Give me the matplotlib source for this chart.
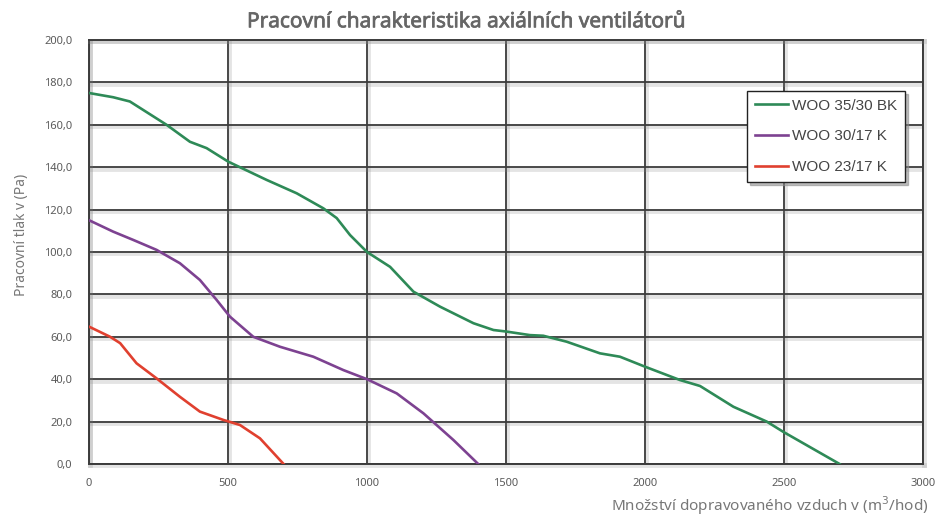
import matplotlib
matplotlib.use("Agg")
import matplotlib.pyplot as plt
import matplotlib.patheffects as pe
from matplotlib.ticker import FuncFormatter
from matplotlib.font_manager import FontProperties

# ---- data ----
green_label = "WOO 35/30 BK"
green_x = [0, 87, 147, 279, 363, 423, 501, 639, 747, 843, 891, 939, 1000, 1083, 1167, 1263, 1383, 1455,
           1500, 1586, 1634, 1718, 1838, 1910, 2000, 2126, 2198, 2318, 2438, 2497, 2700]
green_y = [175, 173, 171, 160, 152, 149, 142.6, 134, 127.7, 120.6, 116, 108, 100, 93, 81.3, 74.2, 66.4, 63.2,
           62.5, 60.8, 60.5, 57.7, 52.2, 50.6, 45.9, 39.6, 36.8, 27, 20, 15.2, 0]

purple_label = "WOO 30/17 K"
purple_x = [0, 87, 159, 243, 327, 399, 459, 507, 591, 687, 807, 915, 1000, 1107, 1203, 1311, 1400]
purple_y = [115, 109.6, 105.7, 101, 94.7, 86.8, 77.4, 69.5, 60, 55.3, 50.6, 44.3, 40, 33.3, 23.9, 11.3, 0]

red_label = "WOO 23/17 K"
red_x = [0, 76, 112, 171, 243, 327, 399, 483, 543, 615, 700]
red_y = [64.8, 60, 57, 47.5, 40.4, 31.7, 24.7, 20.8, 18.4, 12.1, 0]

x_ticks = [0, 500, 1000, 1500, 2000, 2500, 3000]
y_ticks = [0, 20, 40, 60, 80, 100, 120, 140, 160, 180, 200]

title = "Pracovní charakteristika axiálních ventilátorů"
ylabel = "Pracovní tlak v (Pa)"
xlabel = "Množství dopravovaného vzduch v (m$^3$/hod)"

def cond(size, weight="normal"):
    return FontProperties(family="Noto Sans", stretch="condensed", size=size, weight=weight)

fig = plt.figure(figsize=(9.35, 5.19), dpi=100)
fig.patch.set_facecolor("white")
ax = fig.add_axes([89/935, (519-464)/519, (923-89)/935, (464-40)/519])
ax.set_xlim(0, 3000)
ax.set_ylim(0, 200)

shadow = [pe.SimpleLineShadow(offset=(1.0, -1.0), shadow_color="#888888", alpha=0.22, linewidth=3.5), pe.Normal()]

ax.set_xticks(x_ticks)
ax.set_yticks(y_ticks)
ax.grid(True, color="#3c3c3c", linewidth=1.3)
for gl in ax.get_xgridlines() + ax.get_ygridlines():
    gl.set_path_effects(shadow)
for s in ax.spines.values():
    s.set_color("#3c3c3c")
    s.set_linewidth(1.4)
    s.set_path_effects(shadow)

ax.plot(green_x, green_y, color="#2e8a57", lw=1.9, label=green_label, zorder=3)
ax.plot(purple_x, purple_y, color="#7d4291", lw=1.9, label=purple_label, zorder=3)
ax.plot(red_x, red_y, color="#e0402f", lw=1.9, label=red_label, zorder=3)

ax.yaxis.set_major_formatter(FuncFormatter(lambda v, p: f"{v:.1f}".replace(".", ",")))
ax.tick_params(axis="both", length=0, labelcolor="#5a5a5a")
ax.tick_params(axis="x", pad=10)
ax.tick_params(axis="y", pad=12)
for lab in ax.get_xticklabels() + ax.get_yticklabels():
    lab.set_fontproperties(cond(8))

fig.text(0.5, 0.958, title, ha="center", va="center", color="#666666",
         fontproperties=cond(15, "bold"),
         path_effects=[pe.withStroke(linewidth=0.5, foreground="#666666")])
fig.text(22/935, 1 - 235/519, ylabel, rotation=90, ha="center", va="center",
         color="#777777", fontproperties=cond(10))
fig.text(928/935, 1 - 506/519, xlabel, ha="right", va="center",
         color="#777777", fontproperties=cond(11))

leg = ax.legend(loc="upper right", bbox_to_anchor=((905-89)/834, (464-91)/424),
                borderaxespad=0, frameon=True, fancybox=False,
                shadow={"color": "#8a8a8a", "alpha": 0.55},
                handlelength=2.2, labelspacing=1.1, borderpad=0.5, handletextpad=0.25,
                prop=FontProperties(family="Liberation Sans", size=11))
leg.get_frame().set_edgecolor("#222222")
leg.get_frame().set_linewidth(1.0)
for t in leg.get_texts():
    t.set_color("#444444")

fig.savefig("out.png", dpi=100)
